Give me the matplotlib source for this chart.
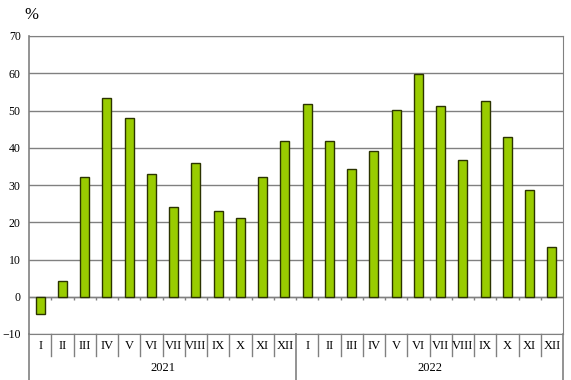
import matplotlib.pyplot as plt
import numpy as np

plt.rcParams['font.family'] = ['Liberation Serif', 'DejaVu Serif']

months = ['I', 'II', 'III', 'IV', 'V', 'VI', 'VII', 'VIII', 'IX', 'X', 'XI', 'XII']
years = ['2021', '2022']
values_2021 = [-4.5, 4.1, 32.2, 53.3, 47.9, 33.0, 24.2, 35.8, 23.1, 21.2, 32.1, 41.9]
values_2022 = [51.7, 41.8, 34.2, 39.2, 50.1, 59.9, 51.1, 36.8, 52.5, 43.0, 28.6, 13.4]

values = values_2021 + values_2022
labels = months * len(years)
x = np.arange(len(values))
grey = '#808080'

fig = plt.figure(figsize=(5.71, 3.8), dpi=100)
ax = fig.add_axes([29 / 571, 1 - 334 / 380, 534 / 571, 298 / 380])

ax.set_ylim(-10, 70)
ax.set_xlim(-0.5, len(values) - 0.5)
ax.set_yticks(range(-10, 71, 10))
ax.yaxis.grid(True, color=grey, linewidth=1)
ax.set_axisbelow(True)
ax.axhline(0, color=grey, linewidth=1)
ax.vlines(x[:-1] + 0.5, -0.9, 0, color=grey, linewidth=1)

ax.bar(x, values, width=0.4, color='#99cc00', edgecolor='#2b3300', linewidth=1, zorder=3)

for s in ax.spines.values():
    s.set_color(grey)
ax.spines['left'].set_linewidth(1.2)
ax.set_xticks([])
ax.tick_params(axis='y', length=0, labelsize=8.5, pad=6)

tr = ax.get_xaxis_transform()
for i, lab in enumerate(labels):
    ax.text(i, -0.04, lab, transform=tr, ha='center', va='center', fontsize=9)
for b in x[:-1] + 0.5:
    if b == 11.5:
        continue
    ax.plot([b, b], [0, -0.075], transform=tr, color=grey, linewidth=1, clip_on=False)
for b in [-0.5, 11.5, 23.5]:
    ax.plot([b, b], [0, -0.155], transform=tr, color=grey, linewidth=1.2, clip_on=False)
for j, y in enumerate(years):
    ax.text(5.5 + 12 * j, -0.115, y, transform=tr, ha='center', va='center', fontsize=9)

fig.text(24 / 571, 1 - 15 / 380, '%', fontsize=12, ha='left', va='center')

fig.savefig('out.png', dpi=100)
